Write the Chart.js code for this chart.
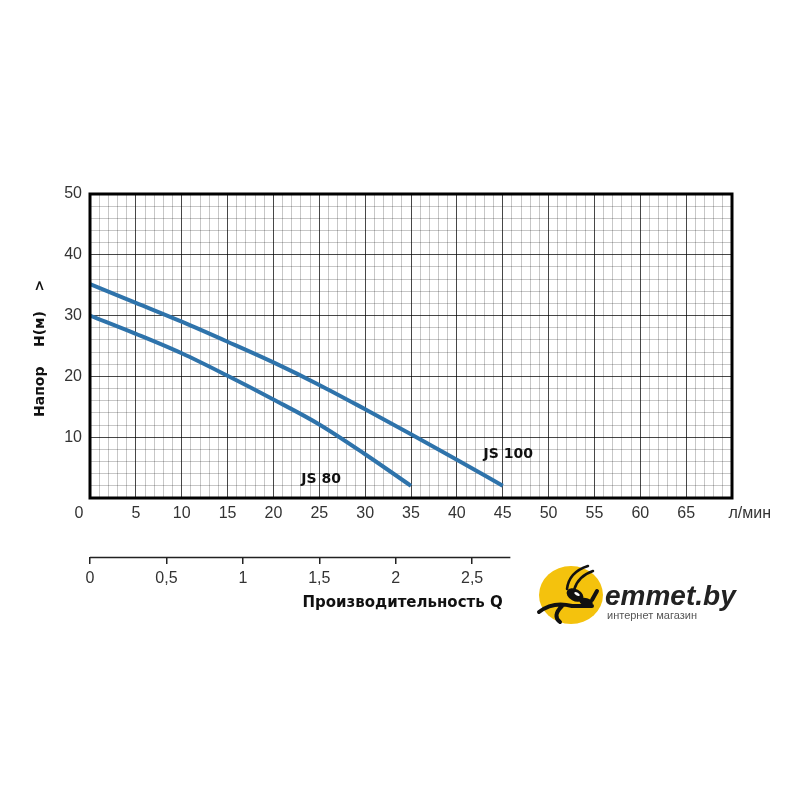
<!DOCTYPE html>
<html>
<head>
<meta charset="utf-8">
<title>JS 80 / JS 100</title>
<script src="https://cdn.jsdelivr.net/npm/chart.js@4.4.0/dist/chart.umd.min.js"></script>
<style>
  html, body { margin: 0; padding: 0; background: #fff; }
  canvas { display: block; }
</style>
</head>
<body>
<canvas id="pumpChart" width="800" height="800"></canvas>
<script>
// расход Q, л/мин -> напор H, м
const flowJS100 = [0, 5, 10, 15, 20, 25, 30, 35, 40, 45];
const headJS100 = [35.2, 32.1, 29.0, 25.7, 22.3, 18.6, 14.6, 10.5, 6.3, 2.0];
const flowJS80 = [0, 5, 10, 15, 20, 25, 30, 35];
const headJS80 = [30.0, 27.0, 23.8, 20.1, 16.2, 12.1, 7.2, 2.0];

const seriesNames = ['JS 100', 'JS 80'];
const flowTicks = [0, 5, 10, 15, 20, 25, 30, 35, 40, 45, 50, 55, 60, 65];
const headTicks = [10, 20, 30, 40, 50];
const qTicks = [0, 0.5, 1, 1.5, 2, 2.5];
const qTickLabels = ['0', '0,5', '1', '1,5', '2', '2,5'];
const qAxisEnd = 2.75;   // м3/ч
const flowUnit = 'л/мин';

const curveColor = '#2e73ab';
const tickFont = { family: 'Liberation Sans', size: 16 };
const tickColor = '#333';

// подписи кривых (в координатах графика)
const curveLabels = [
  { text: seriesNames[0], x: 45.6, y: 7.1 },
  { text: seriesNames[1], x: 25.2, y: 3.1 }
];

const toPoints = (xs, ys) => xs.map((x, i) => ({ x: x, y: ys[i] }));

const framePlugin = {
  id: 'frame',
  afterDatasetsDraw(chart) {
    const { ctx, chartArea: a, scales } = chart;
    ctx.save();
    ctx.strokeStyle = '#000';
    ctx.lineWidth = 3;
    ctx.strokeRect(a.left, a.top, a.right - a.left, a.bottom - a.top);

    // подписи насосов
    ctx.fillStyle = '#111';
    ctx.font = 'bold 14px "DejaVu Sans"';
    ctx.textAlign = 'center';
    ctx.textBaseline = 'middle';
    curveLabels.forEach(l => {
      ctx.fillText(l.text, scales.x.getPixelForValue(l.x), scales.y.getPixelForValue(l.y));
    });
    ctx.restore();
  }
};

const qAxisPlugin = {
  id: 'qAxis',
  afterDraw(chart) {
    const { ctx } = chart;
    const q = chart.scales.q;
    ctx.save();
    ctx.strokeStyle = '#222';
    ctx.lineWidth = 1.5;
    ctx.beginPath();
    ctx.moveTo(q.getPixelForValue(0), q.top + 0.5);
    ctx.lineTo(q.getPixelForValue(qAxisEnd), q.top + 0.5);
    ctx.stroke();

    ctx.fillStyle = '#111';
    ctx.font = 'bold 15px "DejaVu Sans"';
    ctx.textAlign = 'right';
    ctx.textBaseline = 'middle';
    ctx.fillText('Производительность Q', q.getPixelForValue(2.7), q.top + 46);
    ctx.restore();
  }
};

const logoPlugin = {
  id: 'logo',
  afterDraw(chart) {
    const ctx = chart.ctx;
    ctx.save();
    ctx.fillStyle = '#f4c20d';
    ctx.beginPath();
    ctx.ellipse(571, 595, 32, 29, 0, 0, Math.PI * 2);
    ctx.fill();

    ctx.strokeStyle = '#111';
    ctx.fillStyle = '#111';
    ctx.lineCap = 'round';
    ctx.lineWidth = 2.5;
    ctx.beginPath();
    ctx.moveTo(567, 589); ctx.quadraticCurveTo(569, 572, 588, 566);
    ctx.moveTo(574, 590); ctx.quadraticCurveTo(578, 576, 593, 571);
    ctx.stroke();
    ctx.beginPath(); ctx.ellipse(575, 595, 9, 6, 0.5, 0, Math.PI * 2); ctx.fill();
    ctx.beginPath(); ctx.ellipse(586, 602, 7, 4, 0.3, 0, Math.PI * 2); ctx.fill();
    ctx.fillStyle = '#fff';
    ctx.beginPath(); ctx.ellipse(577, 594, 3, 1.5, 0.5, 0, Math.PI * 2); ctx.fill();

    ctx.lineWidth = 4;
    ctx.beginPath();
    ctx.moveTo(539, 612); ctx.quadraticCurveTo(553, 601, 572, 606); ctx.lineTo(592, 606);
    ctx.moveTo(562, 606); ctx.quadraticCurveTo(552, 616, 560, 622);
    ctx.moveTo(592, 600); ctx.lineTo(597, 591);
    ctx.stroke();

    ctx.fillStyle = '#222';
    ctx.font = 'italic bold 28px "Liberation Sans"';
    ctx.textAlign = 'left';
    ctx.textBaseline = 'alphabetic';
    ctx.fillText('emmet.by', 605, 605);
    ctx.fillStyle = '#555';
    ctx.font = '11px "Liberation Sans"';
    ctx.fillText('интернет магазин', 607, 619);
    ctx.restore();
  }
};

const ctx = document.getElementById('pumpChart').getContext('2d');

new Chart(ctx, {
  type: 'line',
  data: {
    datasets: [{
      label: seriesNames[0],
      data: toPoints(flowJS100, headJS100),
      borderColor: curveColor,
      borderWidth: 4,
      pointRadius: 0,
      cubicInterpolationMode: 'monotone'
    }, {
      label: seriesNames[1],
      data: toPoints(flowJS80, headJS80),
      borderColor: curveColor,
      borderWidth: 4,
      pointRadius: 0,
      cubicInterpolationMode: 'monotone'
    }]
  },
  options: {
    responsive: false,
    animation: false,
    layout: { padding: { left: 28, top: 194, right: 68, bottom: 203 } },
    plugins: {
      legend: { display: false },
      tooltip: { enabled: false }
    },
    scales: {
      x: {
        type: 'linear',
        position: 'bottom',
        min: 0,
        max: 70,
        afterFit: function(scale) { scale.height = 59; },
        border: { display: false },
        grid: {
          drawTicks: false,
          lineWidth: 1,
          color: c => (c.tick.value % 5 === 0 ? 'rgba(0,0,0,0.72)' : 'rgba(0,0,0,0.22)')
        },
        ticks: {
          stepSize: 1,
          autoSkip: false,
          maxRotation: 0,
          minRotation: 0,
          padding: 6,
          font: tickFont,
          color: tickColor,
          callback: function(value) {
            if (value === 0) return '0     ';
            if (value === 70) return '        ' + flowUnit;
            return flowTicks.includes(value) ? String(value) : '';
          }
        }
      },
      q: {
        axis: 'x',
        type: 'linear',
        position: 'bottom',
        min: 0,
        max: 4.2,
        afterFit: function(scale) { scale.height = 40; },
        border: { display: false },
        grid: {
          drawOnChartArea: false,
          drawTicks: true,
          tickLength: 7,
          lineWidth: 1.5,
          color: c => (qTicks.includes(c.tick.value) ? '#222' : 'rgba(0,0,0,0)')
        },
        ticks: {
          stepSize: 0.5,
          autoSkip: false,
          maxRotation: 0,
          minRotation: 0,
          padding: 5,
          font: tickFont,
          color: tickColor,
          callback: function(value) {
            const i = qTicks.indexOf(value);
            return i >= 0 ? qTickLabels[i] : '';
          }
        }
      },
      y: {
        type: 'linear',
        min: 0,
        max: 50,
        afterFit: function(scale) { scale.width = 62; },
        border: { display: false },
        grid: {
          drawTicks: false,
          lineWidth: 1,
          color: c => (c.tick.value % 10 === 0 ? 'rgba(0,0,0,0.72)' : 'rgba(0,0,0,0.22)')
        },
        ticks: {
          stepSize: 2,
          autoSkip: false,
          padding: 8,
          font: tickFont,
          color: tickColor,
          callback: function(value) {
            return headTicks.includes(value) ? String(value) : '';
          }
        },
        title: {
          display: true,
          text: 'Напор    H(м)    > ',
          color: '#111',
          font: { family: 'DejaVu Sans', size: 14, weight: 'bold' },
          padding: { top: 4, bottom: 4 }
        }
      }
    }
  },
  plugins: [framePlugin, qAxisPlugin, logoPlugin]
});
</script>
</body>
</html>
